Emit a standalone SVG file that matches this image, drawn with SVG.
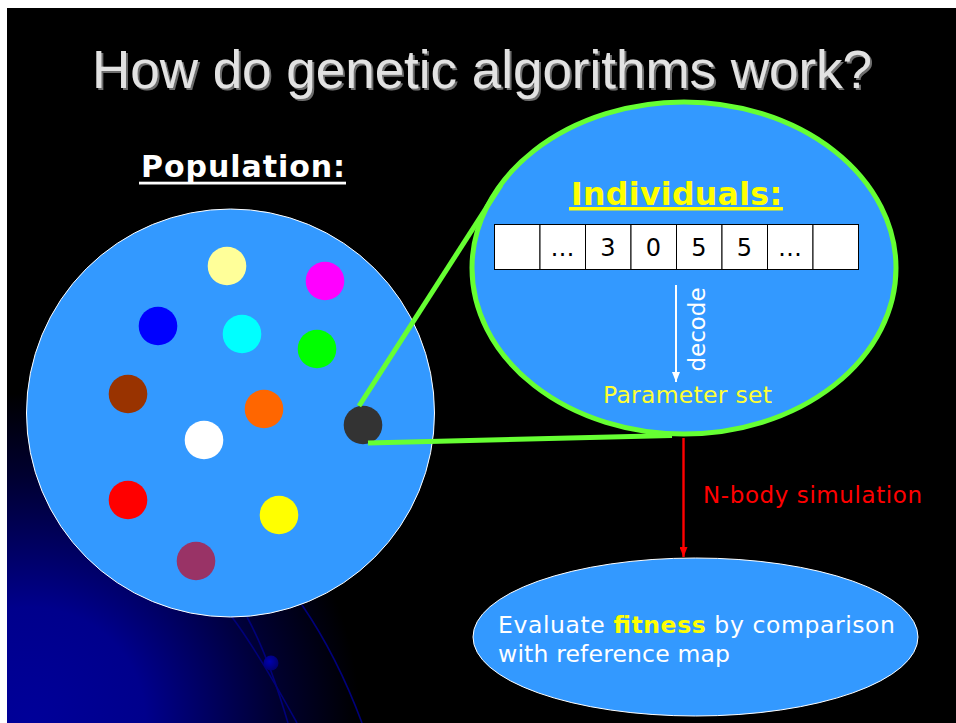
<svg xmlns="http://www.w3.org/2000/svg" width="956" height="723" viewBox="0 0 956 723">
  <style>
    .v { font-family: "DejaVu Sans", Verdana, sans-serif; }
    .blob { fill: #3399FF; }
    .dot { stroke: none; }
    .cell { fill: #FFFFFF; stroke: #000000; stroke-width: 1; }
    .cellText { font-family: "DejaVu Sans", Verdana, sans-serif; font-size: 24px; fill: #000000; text-anchor: middle; }
    .link { stroke: #66FF33; stroke-width: 5; fill: none; stroke-linecap: butt; }
    .orbit { stroke: #00007A; stroke-width: 1.6; fill: none; }
  </style>
  <defs>
    <radialGradient id="cornerGlow" cx="30" cy="723" r="330" gradientUnits="userSpaceOnUse">
      <stop offset="0" stop-color="#000099"/>
      <stop offset="0.35" stop-color="#00008C"/>
      <stop offset="0.75" stop-color="#000030"/>
      <stop offset="1" stop-color="#000000"/>
    </radialGradient>
    <radialGradient id="planet" cx="0.4" cy="0.4" r="0.6">
      <stop offset="0" stop-color="#0000B0"/>
      <stop offset="1" stop-color="#000070"/>
    </radialGradient>
    <filter id="titleShadow" x="-5%" y="-20%" width="110%" height="150%">
      <feOffset in="SourceAlpha" dx="2" dy="2" result="off"/>
      <feFlood flood-color="#6E6E6E"/>
      <feComposite in2="off" operator="in" result="shadow"/>
      <feMerge>
        <feMergeNode in="shadow"/>
        <feMergeNode in="SourceGraphic"/>
      </feMerge>
    </filter>
    <marker id="headWhite" viewBox="0 0 10 8" refX="10" refY="4" markerWidth="10" markerHeight="8" markerUnits="userSpaceOnUse" orient="auto">
      <path d="M0,0 L10,4 L0,8 z" fill="#FFFFFF"/>
    </marker>
    <marker id="headRed" viewBox="0 0 10 8" refX="10" refY="4" markerWidth="10" markerHeight="8" markerUnits="userSpaceOnUse" orient="auto">
      <path d="M0,0 L10,4 L0,8 z" fill="#FF0000"/>
    </marker>
  </defs>

  <!-- slide background -->
  <rect x="0" y="0" width="956" height="723" fill="#FFFFFF"/>
  <rect x="7" y="8" width="949" height="715" fill="#000000"/>
  <rect x="7" y="380" width="400" height="343" fill="url(#cornerGlow)"/>
  <path class="orbit" d="M232,617 Q258,652 297,723"/>
  <path class="orbit" d="M247,617 Q268,655 288,723"/>
  <path class="orbit" d="M302,605 Q337,656 362,723"/>
  <circle cx="271" cy="663" r="7.5" fill="url(#planet)"/>

  <!-- title -->
  <g id="title">
    <text x="482" y="88" font-family="'Liberation Sans', Arial, sans-serif" font-size="53" text-anchor="middle" textLength="780" fill="#E2E2E2" filter="url(#titleShadow)">How do genetic algorithms work?</text>
  </g>

  <!-- population -->
  <g id="population">
    <text class="v" x="141" y="177" font-size="30" font-weight="bold" fill="#FFFFFF" textLength="204">Population:</text>
    <rect x="139" y="181.7" width="207" height="2.8" fill="#FFFFFF"/>
    <circle class="blob" cx="230.5" cy="413" r="204" stroke="#FFFFFF" stroke-width="1"/>
    <circle class="dot" cx="227" cy="266" r="19.3" fill="#FFFF99"/>
    <circle class="dot" cx="325" cy="281" r="19.3" fill="#FF00FF"/>
    <circle class="dot" cx="158" cy="326" r="19.3" fill="#0000FF"/>
    <circle class="dot" cx="242" cy="334" r="19.3" fill="#00FFFF"/>
    <circle class="dot" cx="317" cy="349" r="19.3" fill="#00FF00"/>
    <circle class="dot" cx="128" cy="394" r="19.3" fill="#993300"/>
    <circle class="dot" cx="264" cy="409" r="19.3" fill="#FF6600"/>
    <circle class="dot" cx="204" cy="440" r="19.3" fill="#FFFFFF"/>
    <circle class="dot" cx="128" cy="500" r="19.3" fill="#FF0000"/>
    <circle class="dot" cx="279" cy="515" r="19.3" fill="#FFFF00"/>
    <circle class="dot" cx="196" cy="561" r="19.3" fill="#993366"/>
  </g>
  <g id="selected-individual">
    <circle class="dot" cx="363" cy="425" r="19.3" fill="#333333"/>
  </g>

  <!-- magnified individual -->
  <g id="individual">
    <ellipse class="blob" cx="684" cy="268" rx="212" ry="166" stroke="#66FF33" stroke-width="5"/>
    <text class="v" x="571" y="205" font-size="31.5" font-weight="bold" fill="#FFFF00" textLength="211">Individuals:</text>
    <rect x="569" y="207" width="214" height="3.5" fill="#FFFF00"/>
    <rect class="cell" x="494.5" y="224.5" width="45.5" height="45"/>
    <rect class="cell" x="540" y="224.5" width="45.5" height="45"/>
    <rect class="cell" x="585.5" y="224.5" width="45.5" height="45"/>
    <rect class="cell" x="631" y="224.5" width="45.5" height="45"/>
    <rect class="cell" x="676.5" y="224.5" width="45.5" height="45"/>
    <rect class="cell" x="722" y="224.5" width="45.5" height="45"/>
    <rect class="cell" x="767.5" y="224.5" width="45.5" height="45"/>
    <rect class="cell" x="813" y="224.5" width="45.5" height="45"/>
    <text class="cellText" x="562.5" y="256">…</text>
    <text class="cellText" x="608" y="256">3</text>
    <text class="cellText" x="653.5" y="256">0</text>
    <text class="cellText" x="699" y="256">5</text>
    <text class="cellText" x="744.5" y="256">5</text>
    <text class="cellText" x="790" y="256">…</text>
    <text class="v" transform="translate(705,329.5) rotate(-90)" font-size="23" fill="#FFFFFF" text-anchor="middle">decode</text>
    <text class="v" x="603" y="403" font-size="23.5" fill="#FFFF33" textLength="169">Parameter set</text>
  </g>

  <!-- fitness evaluation -->
  <g id="fitness">
    <ellipse class="blob" cx="695.5" cy="637" rx="222.5" ry="79" stroke="#FFFFFF" stroke-width="1"/>
    <text class="v" x="498" y="633" font-size="23.5" fill="#FFFFFF" textLength="397">Evaluate <tspan font-weight="bold" fill="#FFFF00">fitness</tspan> by comparison</text>
    <text class="v" x="498" y="662" font-size="23.5" fill="#FFFFFF" textLength="232">with reference map</text>
  </g>

  <!-- connectors -->
  <g id="connectors">
    <line class="link" x1="359" y1="406" x2="501" y2="185"/>
    <line class="link" x1="368" y1="443" x2="672" y2="435.5"/>
    <line x1="676" y1="285" x2="676" y2="382" stroke="#FFFFFF" stroke-width="2" marker-end="url(#headWhite)"/>
    <line x1="683.5" y1="438" x2="683.5" y2="557" stroke="#FF0000" stroke-width="2.4" marker-end="url(#headRed)"/>
    <text class="v" x="703" y="503" font-size="23" fill="#FF0000" textLength="219">N-body simulation</text>
  </g>
</svg>
